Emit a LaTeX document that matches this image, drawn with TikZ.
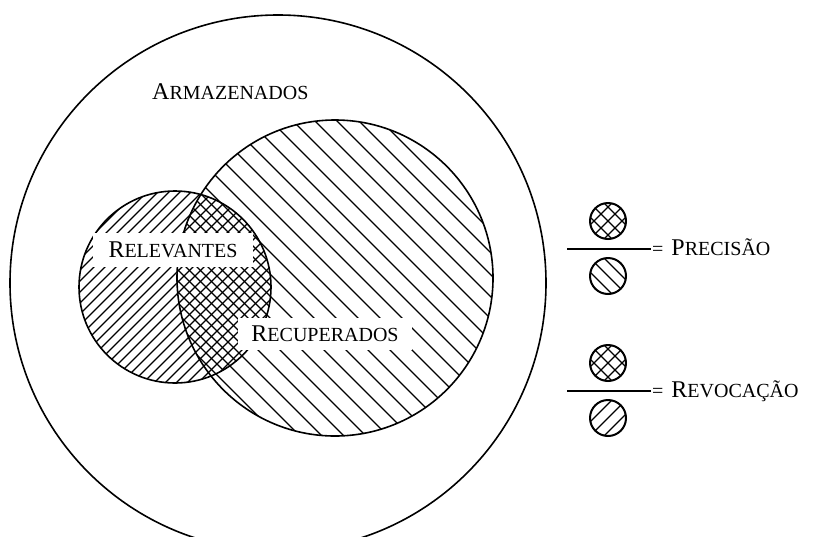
\documentclass[tikz,border=0pt]{standalone}
\usepackage{fontspec}
\usetikzlibrary{calc}
\setmainfont{Liberation Serif}
% small capitals built from a large initial and smaller capitals
\newcommand\capsc[2]{{\fontsize{24}{24}\selectfont #1}{\fontsize{20}{20}\selectfont #2}}

\begin{document}
\begin{tikzpicture}[x=1pt,y=-1pt,
  outline/.style={line width=1.6pt},
  hatchline/.style={line width=1.3pt},
  keyline/.style={line width=2pt},
  keyhatch/.style={line width=1.3pt},
  boxlabel/.style={fill=white, inner sep=0pt, align=center},
  plainlabel/.style={inner sep=0pt}]
\useasboundingbox (0,0) rectangle (813,536);

\coordinate (store) at (278,283);
\coordinate (retr) at (335,278);
\coordinate (relv) at (175,287);

% retrieved set: backslash hatching
\begin{scope}
  \clip (retr) circle[radius=158pt];
  \foreach \c in {-290,-268,...,400} \draw[hatchline] (\c,0) -- ++(560,560);
\end{scope}

% relevant set: slash hatching
\begin{scope}
  \clip (relv) circle[radius=96pt];
  \foreach \c in {240,251,...,680} \draw[hatchline] (\c,0) -- ++(-600,600);
\end{scope}

% intersection: denser backslash hatching
\begin{scope}
  \clip (retr) circle[radius=158pt];
  \clip (relv) circle[radius=96pt];
  \foreach \c in {-279,-257,...,400} \draw[hatchline] (\c,0) -- ++(560,560);
\end{scope}

% outlines
\draw[outline] (store) circle[radius=268pt];
\draw[outline] (retr) circle[radius=158pt];
\draw[outline] (relv) circle[radius=96pt];

% labels
\node[plainlabel, anchor=base west] (lstore) at (152,99) {\capsc{A}{RMAZENADOS}};
\node[boxlabel, minimum width=160pt, minimum height=34pt] (lrelv) at (173,250) {\capsc{R}{ELEVANTES}};
\node[boxlabel, minimum width=174pt, minimum height=32pt] (lretr) at (325,334) {\capsc{R}{ECUPERADOS}};

% precision key
\coordinate (pnum) at (608,221);
\coordinate (pden) at (608,276);
\coordinate (pl) at (567,249);
\coordinate (pr) at (651,249);
\begin{scope}
  \clip (pnum) circle[radius=18pt];
  \foreach \c in {-28,-14,0,14,28} {
    \draw[keyhatch] ($(pnum)+(\c-40,-40)$) -- ++(80,80);
    \draw[keyhatch] ($(pnum)+(\c+40,-40)$) -- ++(-80,80);
  }
\end{scope}
\begin{scope}
  \clip (pden) circle[radius=18pt];
  \foreach \c in {-14,0,14} \draw[keyhatch] ($(pden)+(\c-40,-40)$) -- ++(80,80);
\end{scope}
\draw[keyline] (pnum) circle[radius=18pt];
\draw[keyline] (pden) circle[radius=18pt];
\draw[line width=1.6pt] (pl) -- (pr);
\node[plainlabel, anchor=base west] (lprec) at (652,255) {{\fontsize{20}{20}\selectfont =}\hspace{8pt}\capsc{P}{RECISÃO}};

% recall key
\coordinate (rnum) at (608,363);
\coordinate (rden) at (608,418);
\coordinate (rl) at (567,391);
\coordinate (rr) at (651,391);
\begin{scope}
  \clip (rnum) circle[radius=18pt];
  \foreach \c in {-28,-14,0,14,28} {
    \draw[keyhatch] ($(rnum)+(\c-40,-40)$) -- ++(80,80);
    \draw[keyhatch] ($(rnum)+(\c+40,-40)$) -- ++(-80,80);
  }
\end{scope}
\begin{scope}
  \clip (rden) circle[radius=18pt];
  \foreach \c in {-14,0,14} \draw[keyhatch] ($(rden)+(\c+40,-40)$) -- ++(-80,80);
\end{scope}
\draw[keyline] (rnum) circle[radius=18pt];
\draw[keyline] (rden) circle[radius=18pt];
\draw[line width=1.6pt] (rl) -- (rr);
\node[plainlabel, anchor=base west] (lrec) at (652,397) {{\fontsize{20}{20}\selectfont =}\hspace{8pt}\capsc{R}{EVOCAÇÃO}};
\end{tikzpicture}
\end{document}
